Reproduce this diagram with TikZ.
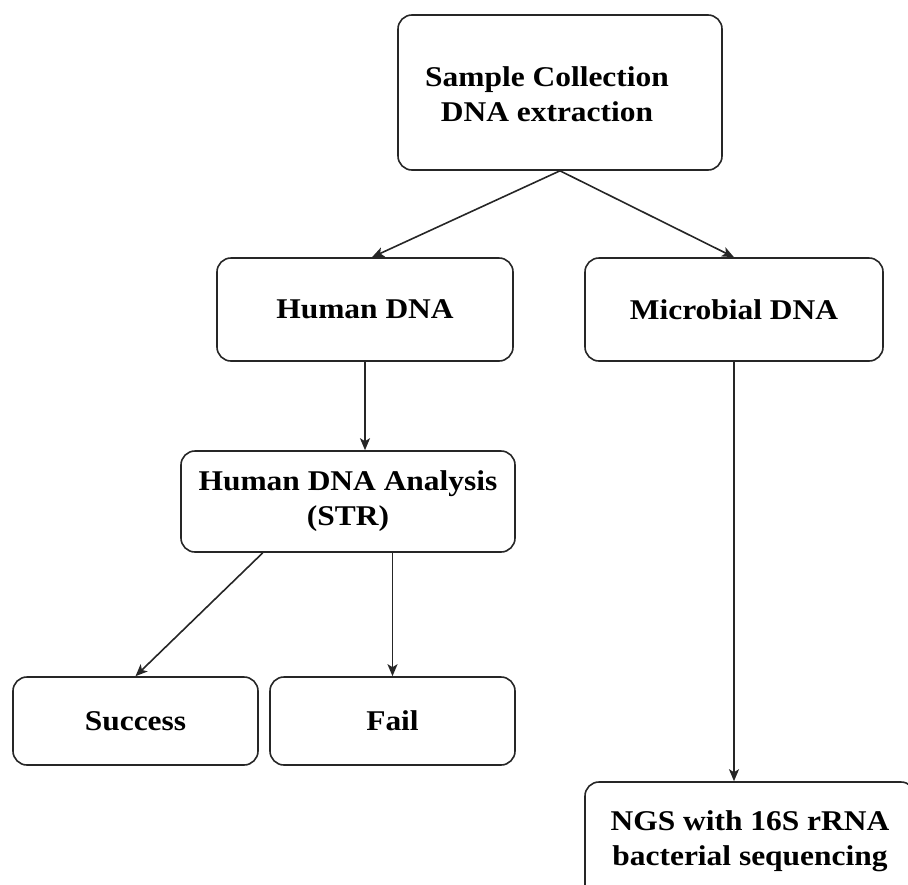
\documentclass[tikz,border=0pt]{standalone}
\usepackage{fontspec}
\setmainfont{Liberation Serif}[FakeStretch=1.1]
\usetikzlibrary{arrows.meta,calc}
\begin{document}
\begin{tikzpicture}[x=1pt,y=-1pt,
  box/.style={draw=black!85, line width=1.6pt, rounded corners=14pt, inner sep=0pt, align=center,
    font=\fontsize{28.6}{35}\selectfont\bfseries},
  lbl/.style={inner sep=0pt, align=center, font=\fontsize{28.6}{35}\selectfont\bfseries},
  arr/.style={draw=black!85, line width=1.6pt, -{Stealth[length=12pt,width=10pt,inset=3pt]}}]
\useasboundingbox (0,0) rectangle (908,884);
\node[box, minimum width=324pt, minimum height=155pt] (top) at (560,92.5) {};
\node[lbl] (toptext) at (547,94) {Sample Collection\\DNA extraction};
\node[box, minimum width=296pt, minimum height=103pt] (hum) at (365,309.5) {Human DNA};
\node[box, minimum width=298pt, minimum height=103pt] (mic) at (734,309.5) {Microbial DNA};
\node[box, minimum width=334pt, minimum height=101pt] (ana) at (348,501.5) {Human DNA Analysis\\(STR)};
\node[box, minimum width=245pt, minimum height=88pt] (suc) at (135.5,721) {Success};
\node[box, minimum width=245pt, minimum height=88pt] (fail) at (392.5,721) {Fail};
\node[box, minimum width=330pt, minimum height=118pt] (ngs) at (750,841) {NGS with 16S rRNA\\bacterial sequencing};
\draw[arr] (top.south) -- (hum.north -| 372,0);
\draw[arr] (top.south) -- (mic.north);
\draw[arr] (hum.south) -- (hum.south |- ana.north);
\draw[arr] (mic.south) -- (mic.south |- ngs.north);
\draw[arr] ($(ana.south west)!0.246!(ana.south east)$) -- (suc.north);
\draw[arr] (ana.south -| fail.north) -- (fail.north);
\end{tikzpicture}
\end{document}
